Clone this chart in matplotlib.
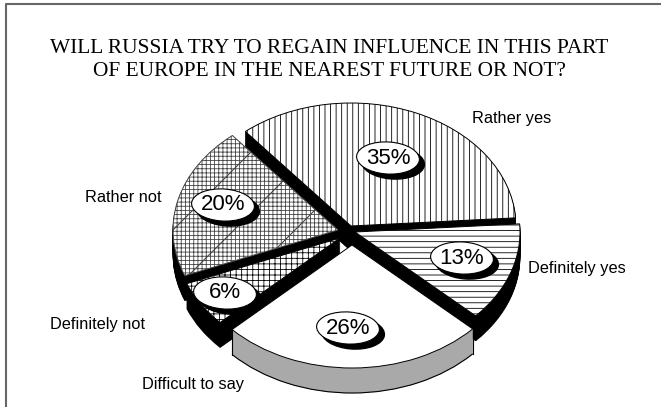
import math
import matplotlib
matplotlib.use("Agg")
import matplotlib.pyplot as plt
from matplotlib.patches import Arc, Ellipse, Wedge

W, H = 661, 407

title = "WILL RUSSIA TRY TO REGAIN INFLUENCE IN THIS PART\nOF EUROPE IN THE NEAREST FUTURE OR NOT?"
categories = ["Rather yes", "Rather not", "Definitely not", "Difficult to say", "Definitely yes"]
values = [35, 20, 6, 26, 13]

# slice styling, same order as categories
apex_pos = [(351, 226), (338, 230), (340, 238), (352, 245), (355, 232)]
hatches = ["|||", "++++", "+++", None, "---"]
edges = ["black", "#444444", "black", "black", "black"]
side_colors = ["black", "black", "black", "#a9a9a9", "black"]
draw_order = [0, 1, 4, 2, 3]

# pixel positions of the texts and value bubbles
label_pos = [(472, 119), (85, 197), (50, 324), (142, 385), (528, 268)]
bubble_pos = [(388, 158), (223, 205), (225, 293), (348, 328), (462, 258)]

RX, RY = 165, 123
CX, CY = 345, 232
DEPTH = 25

plt.rcParams["hatch.linewidth"] = 0.6

fig = plt.figure(figsize=(W / 100, H / 100), dpi=100)
ax = fig.add_axes([0, 0, 1, 1])

wedges, _ = ax.pie(values, startangle=3.8, counterclock=True,
                   wedgeprops={"facecolor": "white", "edgecolor": "black", "linewidth": 0.7})
ax.set_aspect("auto")
ax.set_xlim(-CX / RX, (W - CX) / RX)
ax.set_ylim((CY - H) / RY, CY / RY)
ax.axis("off")


def px(x, y):
    return (x - CX) / RX, (CY - y) / RY


# frame: only the top and left sides are there
ax.plot(*zip(px(6, 420), px(6, 4), px(661, 4)), color="#666666", linewidth=1.5, zorder=0)

z = 1
for i in draw_order:
    w = wedges[i]
    w.set_center(px(*apex_pos[i]))
    # stack of shifted copies makes the side of the slice
    for d in range(DEPTH, 0, -1):
        side = Wedge((w.center[0], w.center[1] - d / RY), 1, w.theta1, w.theta2,
                     facecolor=side_colors[i], edgecolor=side_colors[i], linewidth=0.5, zorder=z)
        ax.add_patch(side)
    if side_colors[i] != "black":
        # rim and end lines of the lighter side wall
        low_y = w.center[1] - DEPTH / RY
        rim = Arc((w.center[0], low_y), 2, 2, theta1=w.theta1, theta2=w.theta2,
                  edgecolor="black", linewidth=0.8, zorder=z)
        ax.add_patch(rim)
        for t in (w.theta1, w.theta2):
            ex = w.center[0] + math.cos(math.radians(t))
            ey = w.center[1] + math.sin(math.radians(t))
            ax.plot([ex, ex], [ey, ey - DEPTH / RY], color="black", linewidth=0.8, zorder=z + 0.6)
    w.set_zorder(z + 0.5)
    w.set_edgecolor(edges[i])
    if hatches[i]:
        w.set_hatch(hatches[i])
    z += 1

# wide diagonal lines over the cross hatch
grid_wedge = wedges[1]
for start in range(103, 290, 61):
    x0, y0 = px(start, 300)
    x1, y1 = px(start + 200, 100)
    line, = ax.plot([x0, x1], [y0, y1], color="#444444", linewidth=0.8, zorder=grid_wedge.get_zorder() + 0.1)
    line.set_clip_path(grid_wedge)

for (x, y), v in zip(bubble_pos, values):
    bx, by = px(x, y)
    sx, sy = px(x + 5, y + 5)
    ax.add_patch(Ellipse((sx, sy), 63 / RX, 32 / RY, angle=-6, facecolor="black", edgecolor="black", zorder=20))
    ax.add_patch(Ellipse((bx, by), 63 / RX, 32 / RY, angle=-6, facecolor="white", edgecolor="black", linewidth=0.8, zorder=21))
    ax.text(bx, by, f"{v}%", ha="center", va="center", fontsize=16, family="Liberation Sans", zorder=22)

fig.text(329 / W, 1 - 60 / H, title, ha="center", va="center", fontsize=15.4, family="Liberation Serif",
         linespacing=1.23)
for (x, y), name in zip(label_pos, categories):
    fig.text(x / W, 1 - y / H, name, ha="left", va="center", fontsize=11.8, family="Liberation Sans")

fig.savefig("out.png", dpi=100)
